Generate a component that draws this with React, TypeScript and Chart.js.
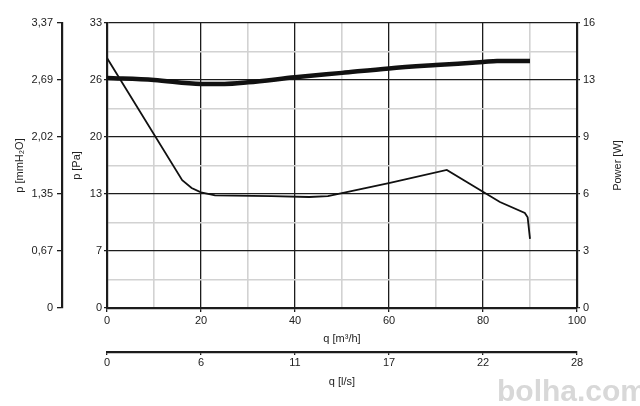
import { useEffect, useRef } from 'react'
import { Chart, registerables, Plugin } from 'chart.js'

Chart.register(...registerables)

// flow in m³/h and static pressure in Pa (thin curve)
const pressureFlow = [0, 16, 18, 20, 23, 35, 43, 47, 60.2, 72.3, 83.6, 88.9, 89.5, 90]
const pressurePa = [28.95, 14.8, 13.9, 13.4, 13.05, 12.95, 12.85, 12.95, 14.5, 15.98, 12.27, 11.0, 10.5, 8.0]

// flow in m³/h and absorbed power in W (thick curve)
const powerFlow = [0, 10, 20, 25, 30, 40, 50, 60, 70, 80, 83, 90]
const powerW = [12.91, 12.8, 12.58, 12.58, 12.67, 12.95, 13.2, 13.45, 13.64, 13.81, 13.87, 13.87]

// tick labels
const flowTicks = ['0', '20', '40', '60', '80', '100']
const paTicks = ['0', '7', '13', '20', '26', '33']
const mmValues = [0, 0.674, 1.348, 2.022, 2.696, 3.37]
const mmTicks = ['0', '0,67', '1,35', '2,02', '2,69', '3,37']
const powerValues = [0, 3.2, 6.4, 9.6, 12.8, 16]
const powerTicks = ['0', '3', '6', '9', '13', '16']
const lsValues = [0, 5.6, 11.2, 16.8, 22.4, 28]
const lsTicks = ['0', '6', '11', '17', '22', '28']

const DARK = '#1c1c1c'
const LIGHT = '#d2d2d2'
const FONT = { family: '"Liberation Sans", Arial, sans-serif', size: 11 }

const extraText: Plugin = {
  id: 'extraText',
  afterDraw(chart) {
    const { ctx, chartArea } = chart
    ctx.save()
    ctx.font = '11px "Liberation Sans", Arial, sans-serif'
    ctx.fillStyle = '#222'
    ctx.textAlign = 'center'
    ctx.textBaseline = 'middle'
    ctx.translate(chart.scales.power.right - 22, (chartArea.top + chartArea.bottom) / 2)
    ctx.rotate(-Math.PI / 2)
    ctx.fillText('Power [W]', 0, 0)
    ctx.restore()

    ctx.save()
    ctx.font = 'bold 30px "Liberation Sans", Arial, sans-serif'
    ctx.fillStyle = '#d8d8d8'
    ctx.textAlign = 'left'
    ctx.textBaseline = 'alphabetic'
    ctx.fillText('bolha.com', 497, 401)
    ctx.restore()
  },
}

export default function App() {
  const canvasRef = useRef<HTMLCanvasElement>(null)

  useEffect(() => {
    if (!canvasRef.current) return
    const major = (ctx: any) => ctx.index % 2 === 0

    const chart = new Chart(canvasRef.current, {
      type: 'line',
      data: {
        datasets: [
          {
            label: 'Power',
            data: powerFlow.map((q, i) => ({ x: q, y: powerW[i] })),
            xAxisID: 'x',
            yAxisID: 'power',
            borderColor: '#111',
            borderWidth: 4.5,
            pointRadius: 0,
            cubicInterpolationMode: 'monotone',
          },
          {
            label: 'Pressure',
            data: pressureFlow.map((q, i) => ({ x: q, y: pressurePa[i] })),
            xAxisID: 'x',
            yAxisID: 'pa',
            borderColor: '#111',
            borderWidth: 1.8,
            pointRadius: 0,
            tension: 0,
          },
        ],
      },
      options: {
        animation: false,
        responsive: true,
        maintainAspectRatio: false,
        layout: { padding: { top: 23, left: 0, right: 0, bottom: 0 } },
        plugins: { legend: { display: false }, tooltip: { enabled: false } },
        scales: {
          x: {
            type: 'linear',
            position: 'bottom',
            weight: 0,
            min: 0,
            max: 100,
            ticks: {
              stepSize: 10,
              autoSkip: false,
              maxRotation: 0,
              padding: 2,
              color: '#222',
              font: FONT,
              callback: (_v, i) => (i % 2 === 0 ? flowTicks[i / 2] : ''),
            },
            grid: {
              color: (c) => (major(c) ? DARK : LIGHT),
              lineWidth: (c) => (major(c) ? 1.3 : 1.6),
              tickLength: 4,
              tickColor: (c) => (major(c) ? DARK : 'rgba(0,0,0,0)'),
            },
            border: { color: DARK, width: 2.2 },
            title: { display: true, text: 'q [m³/h]', color: '#222', font: FONT, padding: { top: 0, bottom: 6 } },
            afterFit: (s) => {
              s.height = 44
            },
          },
          ls: {
            type: 'linear',
            position: 'bottom',
            weight: 1,
            min: 0,
            max: 28,
            afterBuildTicks: (s) => {
              s.ticks = lsValues.map((value) => ({ value }))
            },
            ticks: {
              autoSkip: false,
              maxRotation: 0,
              padding: 1,
              color: '#222',
              font: FONT,
              callback: (_v, i) => lsTicks[i],
            },
            grid: { drawOnChartArea: false, tickLength: 3, tickColor: DARK, lineWidth: 1.3 },
            border: { color: DARK, width: 2.2 },
            title: { display: true, text: 'q [l/s]', color: '#222', font: FONT, padding: { top: 0, bottom: 17 } },
            afterFit: (s) => {
              s.height = 54
            },
          },
          pa: {
            type: 'linear',
            position: 'left',
            weight: 0,
            min: 0,
            max: 33,
            ticks: {
              stepSize: 3.3,
              autoSkip: false,
              padding: 2,
              color: '#222',
              font: FONT,
              callback: (_v, i) => (i % 2 === 0 ? paTicks[i / 2] : ''),
            },
            grid: {
              color: (c) => (major(c) ? DARK : LIGHT),
              lineWidth: (c) => (major(c) ? 1.3 : 1.6),
              tickLength: 3,
              tickColor: (c) => (major(c) ? DARK : 'rgba(0,0,0,0)'),
            },
            border: { color: DARK, width: 2.2 },
            title: { display: true, text: 'p [Pa]', color: '#222', font: FONT, padding: { top: 8, bottom: 0 } },
            afterFit: (s) => {
              s.width = 45
            },
          },
          mm: {
            type: 'linear',
            position: 'left',
            weight: 1,
            min: 0,
            max: 3.37,
            afterBuildTicks: (s) => {
              s.ticks = mmValues.map((value) => ({ value }))
            },
            ticks: {
              autoSkip: false,
              padding: 4,
              color: '#222',
              font: FONT,
              callback: (_v, i) => mmTicks[i],
            },
            grid: { drawOnChartArea: false, tickLength: 5, tickColor: DARK, lineWidth: 1.3 },
            border: { color: DARK, width: 2.2 },
            title: { display: true, text: 'p [mmH₂O]', color: '#222', font: FONT, padding: { top: 13, bottom: 0 } },
            afterFit: (s) => {
              s.width = 62
            },
          },
          power: {
            type: 'linear',
            position: 'right',
            min: 0,
            max: 16,
            afterBuildTicks: (s) => {
              s.ticks = powerValues.map((value) => ({ value }))
            },
            ticks: {
              autoSkip: false,
              padding: 3,
              color: '#222',
              font: FONT,
              callback: (_v, i) => powerTicks[i],
            },
            grid: { drawOnChartArea: false, tickLength: 3, tickColor: DARK, lineWidth: 1.3 },
            border: { color: DARK, width: 2.2 },
            afterFit: (s) => {
              s.width = 63
            },
          },
        },
      },
      plugins: [extraText],
    })

    return () => {
      chart.destroy()
    }
  }, [])

  return (
    <div style={{ position: 'fixed', left: 0, top: 0, width: 640, height: 406, background: '#fff' }}>
      <canvas ref={canvasRef} />
    </div>
  )
}
